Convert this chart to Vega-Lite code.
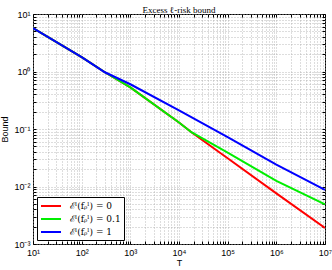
{
  "$schema": "https://vega.github.io/schema/vega-lite/v6.json",
  "autosize": {"type": "none"},
  "padding": {"left": 33, "top": 14, "right": 7, "bottom": 26},
  "width": 292,
  "height": 230,
  "background": "white",
  "config": {
    "view": {"stroke": "black", "strokeWidth": 1},
    "axis": {
      "domain": false,
      "gridColor": "#a8a8a8",
      "gridDash": [1, 2],
      "gridWidth": 0.8,
      "tickColor": "black",
      "tickSize": -3,
      "labelFont": "Liberation Sans",
      "labelFontSize": 9,
      "labelColor": "black",
      "titleFont": "Liberation Sans",
      "titleFontSize": 9,
      "titleFontWeight": "normal",
      "titleColor": "black"
    }
  },
  "title": {
    "text": "Excess ℓ-risk bound",
    "font": "Liberation Serif",
    "fontSize": 9,
    "fontWeight": "normal",
    "color": "black",
    "offset": 0,
    "dy": 5
  },
  "data": {
    "values": [
      {"T": 10, "Bound": 5.7, "series": "ℰˡ(fᵨˡ) = 0"},
      {"T": 100, "Bound": 1.78, "series": "ℰˡ(fᵨˡ) = 0"},
      {"T": 300, "Bound": 0.97, "series": "ℰˡ(fᵨˡ) = 0"},
      {"T": 1000, "Bound": 0.53, "series": "ℰˡ(fᵨˡ) = 0"},
      {"T": 10000, "Bound": 0.13, "series": "ℰˡ(fᵨˡ) = 0"},
      {"T": 18000, "Bound": 0.088, "series": "ℰˡ(fᵨˡ) = 0"},
      {"T": 100000, "Bound": 0.031, "series": "ℰˡ(fᵨˡ) = 0"},
      {"T": 1000000, "Bound": 0.0076, "series": "ℰˡ(fᵨˡ) = 0"},
      {"T": 10000000, "Bound": 0.0019, "series": "ℰˡ(fᵨˡ) = 0"},
      {"T": 10, "Bound": 5.7, "series": "ℰˡ(fᵨˡ) = 0.1"},
      {"T": 100, "Bound": 1.78, "series": "ℰˡ(fᵨˡ) = 0.1"},
      {"T": 300, "Bound": 0.97, "series": "ℰˡ(fᵨˡ) = 0.1"},
      {"T": 1000, "Bound": 0.53, "series": "ℰˡ(fᵨˡ) = 0.1"},
      {"T": 10000, "Bound": 0.13, "series": "ℰˡ(fᵨˡ) = 0.1"},
      {"T": 18000, "Bound": 0.088, "series": "ℰˡ(fᵨˡ) = 0.1"},
      {"T": 100000, "Bound": 0.039, "series": "ℰˡ(fᵨˡ) = 0.1"},
      {"T": 1000000, "Bound": 0.0125, "series": "ℰˡ(fᵨˡ) = 0.1"},
      {"T": 10000000, "Bound": 0.0049, "series": "ℰˡ(fᵨˡ) = 0.1"},
      {"T": 10, "Bound": 5.7, "series": "ℰˡ(fᵨˡ) = 1"},
      {"T": 100, "Bound": 1.78, "series": "ℰˡ(fᵨˡ) = 1"},
      {"T": 300, "Bound": 0.97, "series": "ℰˡ(fᵨˡ) = 1"},
      {"T": 1000, "Bound": 0.6, "series": "ℰˡ(fᵨˡ) = 1"},
      {"T": 10000, "Bound": 0.21, "series": "ℰˡ(fᵨˡ) = 1"},
      {"T": 100000, "Bound": 0.072, "series": "ℰˡ(fᵨˡ) = 1"},
      {"T": 1000000, "Bound": 0.024, "series": "ℰˡ(fᵨˡ) = 1"},
      {"T": 10000000, "Bound": 0.0087, "series": "ℰˡ(fᵨˡ) = 1"}
    ]
  },
  "resolve": {"axis": {"x": "independent", "y": "independent"}},
  "layer": [
    {
      "encoding": {
        "x": {
          "field": "T",
          "type": "quantitative",
          "scale": {"type": "log", "domain": [10, 10000000], "nice": false},
          "axis": {
            "title": "T",
            "titlePadding": 1,
            "labelPadding": 7,
            "values": [10,20,30,40,50,60,70,80,90,100,200,300,400,500,600,700,800,900,1000,2000,3000,4000,5000,6000,7000,8000,9000,10000,20000,30000,40000,50000,60000,70000,80000,90000,100000,200000,300000,400000,500000,600000,700000,800000,900000,1000000,2000000,3000000,4000000,5000000,6000000,7000000,8000000,9000000,10000000],
            "labelExpr": "abs(log(datum.value)/LN10 - round(log(datum.value)/LN10)) < 0.001 ? '10' + {'1':'¹','2':'²','3':'³','4':'⁴','5':'⁵','6':'⁶','7':'⁷'}['' + round(log(datum.value)/LN10)] : ''",
            "labelOverlap": false,
            "labelFlush": false
          }
        },
        "y": {
          "field": "Bound",
          "type": "quantitative",
          "scale": {"type": "log", "domain": [0.001, 10], "nice": false},
          "axis": {
            "title": "Bound",
            "titlePadding": 4,
            "labelPadding": 6,
            "values": [0.001,0.002,0.003,0.004,0.005,0.006,0.007,0.008,0.009,0.01,0.02,0.03,0.04,0.05,0.06,0.07,0.08,0.09,0.1,0.2,0.3,0.4,0.5,0.6,0.7,0.8,0.9,1,2,3,4,5,6,7,8,9,10],
            "labelExpr": "abs(log(datum.value)/LN10 - round(log(datum.value)/LN10)) < 0.001 ? '10' + {'-3':'⁻³','-2':'⁻²','-1':'⁻¹','0':'⁰','1':'¹'}['' + round(log(datum.value)/LN10)] : ''",
            "labelOverlap": false,
            "labelFlush": false
          }
        },
        "color": {
          "field": "series",
          "type": "nominal",
          "scale": {
            "domain": ["ℰˡ(fᵨˡ) = 0", "ℰˡ(fᵨˡ) = 0.1", "ℰˡ(fᵨˡ) = 1"],
            "range": ["#ff0000", "#00ee00", "#0000ff"]
          },
          "legend": {
            "title": null,
            "orient": "bottom-left",
            "offset": 4,
            "padding": 3,
            "strokeColor": "black",
            "fillColor": "white",
            "symbolType": "M-2,0H2",
            "symbolSize": 100,
            "symbolStrokeWidth": 2,
            "symbolOffset": 5,
            "labelOffset": 13,
            "labelFont": "DejaVu Serif",
            "labelFontSize": 9,
            "labelColor": "black",
            "rowPadding": 2,
            "cornerRadius": 0
          }
        }
      },
      "layer": [
        {"transform": [{"filter": "datum.series == 'ℰˡ(fᵨˡ) = 0'"}], "mark": {"type": "line", "strokeWidth": 2, "clip": true}},
        {"transform": [{"filter": "datum.series == 'ℰˡ(fᵨˡ) = 0.1'"}], "mark": {"type": "line", "strokeWidth": 2, "clip": true}},
        {"transform": [{"filter": "datum.series == 'ℰˡ(fᵨˡ) = 1'"}], "mark": {"type": "line", "strokeWidth": 2, "clip": true}}
      ]
    },
    {
      "mark": {"type": "point", "opacity": 0},
      "encoding": {
        "x": {
          "field": "T",
          "type": "quantitative",
          "scale": {"type": "log", "domain": [10, 10000000], "nice": false},
          "axis": {
            "orient": "top",
            "title": null,
            "labels": false,
            "grid": false,
            "values": [10,20,30,40,50,60,70,80,90,100,200,300,400,500,600,700,800,900,1000,2000,3000,4000,5000,6000,7000,8000,9000,10000,20000,30000,40000,50000,60000,70000,80000,90000,100000,200000,300000,400000,500000,600000,700000,800000,900000,1000000,2000000,3000000,4000000,5000000,6000000,7000000,8000000,9000000,10000000]
          }
        },
        "y": {
          "field": "Bound",
          "type": "quantitative",
          "scale": {"type": "log", "domain": [0.001, 10], "nice": false},
          "axis": {
            "orient": "right",
            "title": null,
            "labels": false,
            "grid": false,
            "values": [0.001,0.002,0.003,0.004,0.005,0.006,0.007,0.008,0.009,0.01,0.02,0.03,0.04,0.05,0.06,0.07,0.08,0.09,0.1,0.2,0.3,0.4,0.5,0.6,0.7,0.8,0.9,1,2,3,4,5,6,7,8,9,10]
          }
        }
      }
    }
  ]
}
